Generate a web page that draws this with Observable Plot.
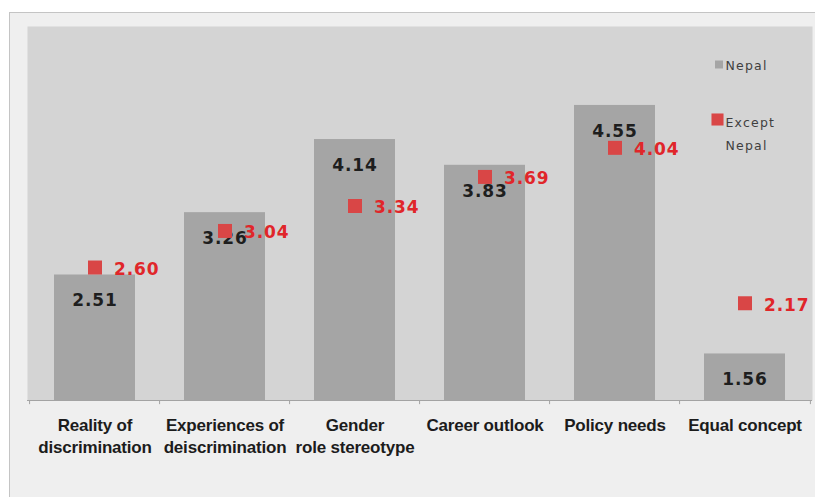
<!DOCTYPE html>
<html>
<head>
<meta charset="utf-8">
<script src="https://cdn.jsdelivr.net/npm/d3@7"></script>
<script src="https://cdn.jsdelivr.net/npm/@observablehq/plot@0.6"></script>
<style>
  html, body { margin: 0; padding: 0; background: #ffffff; }
  #chart {
    position: absolute; left: 9px; top: 12px; width: 806px; height: 485px;
    background: #efefef; border-left: 1px solid #c4c4c4; border-top: 1px solid #c4c4c4;
    overflow: hidden;
  }
  #chart svg { display: block; }
  .value-label text { letter-spacing: 0.9px; }
  .legend-label text { letter-spacing: 1.2px; }
  .axis-label text { letter-spacing: -0.2px; }
</style>
</head>
<body>
<div id="chart"></div>
<script>
// Survey dimensions (x axis) and mean scores for the two groups
const categories = [
  "Reality of\ndiscrimination",
  "Experiences of\ndeiscrimination",
  "Gender\nrole stereotype",
  "Career outlook",
  "Policy needs",
  "Equal concept"
];
const nepal = [2.51, 3.26, 4.14, 3.83, 4.55, 1.56];
const exceptNepal = [2.60, 3.04, 3.34, 3.69, 4.04, 2.17];
const seriesNames = ["Nepal", "Except\nNepal"];
const yDomain = [1, 5.5];

const rows = categories.map((category, i) => ({
  category,
  nepal: nepal[i],
  except: exceptNepal[i]
}));

const W = 805, H = 484;
const margin = {left: 17, right: 3, top: 13, bottom: 97};
const step = (W - margin.left - margin.right) / categories.length;

const barColor = "#a5a5a5";
const squareColor = "#d94646";
const redText = "#e0262a";
const darkText = "#1e1e1e";
const legendText = "#3f3f3f";
const axisText = "#1c1c1c";
const font = "'Liberation Sans', Arial, sans-serif";
const valueFont = "'DejaVu Sans', Verdana, sans-serif";

const chart = Plot.plot({
  width: W,
  height: H,
  marginLeft: margin.left,
  marginRight: margin.right,
  marginTop: margin.top,
  marginBottom: margin.bottom,
  style: {background: "transparent", fontFamily: font, overflow: "visible"},
  x: {domain: categories, paddingInner: 0.38, paddingOuter: 0.19, label: null},
  y: {domain: yDomain, axis: null},
  marks: [
    // plot area
    Plot.frame({fill: "#d4d4d4", stroke: null}),
    // Nepal bars
    Plot.barY(rows, {x: "category", y1: yDomain[0], y2: "nepal", fill: barColor}),
    // category axis line and boundary ticks
    Plot.ruleY([yDomain[0]], {stroke: "#a3a3a3", strokeWidth: 1.2}),
    Plot.ruleX(categories, {x: d => d, dx: -step / 2, y1: yDomain[0], y2: yDomain[0] - 0.05, stroke: "#a3a3a3"}),
    Plot.ruleX(categories.slice(-1), {x: d => d, dx: step / 2, y1: yDomain[0], y2: yDomain[0] - 0.05, stroke: "#a3a3a3"}),
    Plot.axisX({
      tickSize: 0, tickPadding: 15, fontSize: 17, fontWeight: "bold",
      fill: axisText, lineHeight: 1.3, label: null
    }),
    // Nepal value labels inside the bars
    Plot.text(rows, {
      x: "category", y: "nepal", text: d => d.nepal.toFixed(2), dy: 26,
      fontSize: 17, fontWeight: "bold", fontFamily: valueFont, fill: darkText
    }),
    // Except-Nepal markers and labels
    Plot.dot(rows, {x: "category", y: "except", symbol: "square", r: 7.9, fill: squareColor, stroke: null}),
    Plot.text(rows, {
      x: "category", y: "except", text: d => d.except.toFixed(2), dx: 19, dy: 2,
      textAnchor: "start", fontSize: 17, fontWeight: "bold", fontFamily: valueFont, fill: redText
    }),
    // legend
    Plot.dot([seriesNames[0]], {frameAnchor: "top-right", dx: -93.5, dy: 38, symbol: "square", r: 4.5, fill: barColor}),
    Plot.text([seriesNames[0]], {
      frameAnchor: "top-right", dx: -87, dy: 35, text: d => d, textAnchor: "start",
      fontSize: 12.5, fontFamily: valueFont, fill: legendText
    }),
    Plot.dot([seriesNames[1]], {frameAnchor: "top-right", dx: -95, dy: 93, symbol: "square", r: 6.8, fill: squareColor}),
    Plot.text([seriesNames[1]], {
      frameAnchor: "top-right", dx: -87, dy: 85, text: d => d, textAnchor: "start",
      lineAnchor: "top", lineHeight: 1.8, fontSize: 12.5, fontFamily: valueFont, fill: legendText
    })
  ]
});

// letter spacing for the label groups (grouped by their constant fill)
const svg = d3.select(chart);
svg.selectAll(`g[fill="${darkText}"], g[fill="${redText}"]`).classed("value-label", true);
svg.selectAll(`g[fill="${legendText}"]`).classed("legend-label", true);
svg.selectAll(`g[fill="${axisText}"]`).classed("axis-label", true);

document.getElementById("chart").appendChild(chart);
</script>
</body>
</html>
